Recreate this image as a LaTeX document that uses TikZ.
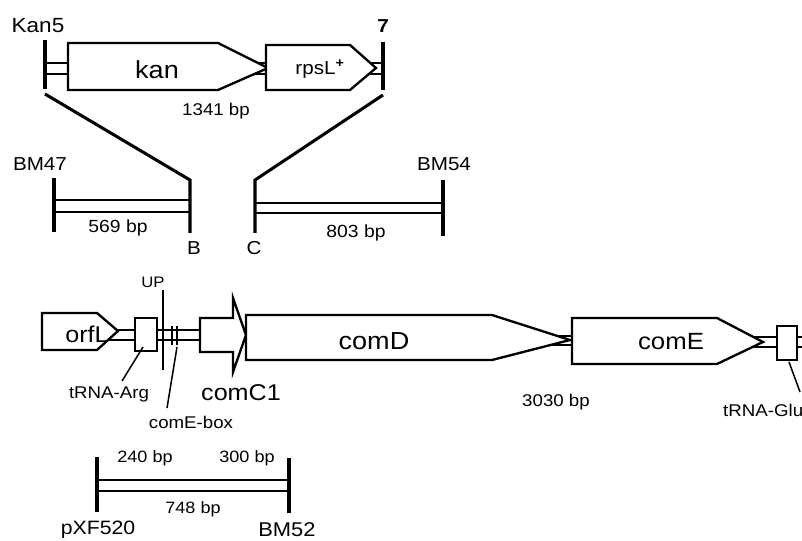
\documentclass[tikz,border=0pt]{standalone}
\usepackage{fontspec}
\setmainfont{Liberation Sans}[FakeStretch=1.1]
\usetikzlibrary{positioning}

\begin{document}
\begin{tikzpicture}[x=0.03cm,y=-0.03cm,
    bar/.style={line width=2.6pt},
    dna/.style={line width=2.4pt},
    gene/.style={draw,line width=2pt,fill=white},
    ptr/.style={line width=1.3pt},
    lbl/.style={inner sep=0pt,font=\fontsize{#1}{#1}\selectfont}]
  \useasboundingbox (0,0) rectangle (802,541);

  % Kan5 / 7 cassette
  \draw[dna] (45,63) -- (383,63);
  \draw[dna] (45,74) -- (383,74);
  \draw[gene] (68,43) -- (218,43) -- (268,68) -- (218,90) -- (68,90) -- cycle;  % kan
  \draw[gene] (266,45) -- (350,45) -- (376,68) -- (350,90) -- (266,90) -- cycle; % rpsL
  \draw[bar] (45,40) -- (45,89);
  \draw[bar] (383,42) -- (383,90);
  \node[lbl=17.5] (kanfive) at (38,26) {Kan5};
  \node[lbl=16,font=\fontsize{16}{16}\selectfont\bfseries] (seven) at (383,26) {7};
  \node[lbl=21] (kan) at (157,70) {kan};
  \node[lbl=16] (rpsl) at (320,69) {rpsL\textsuperscript{\bfseries +}};
  \node[lbl=14.5] (len1341) at (216,111) {1341 bp};

  % crossover into flanks
  \draw[bar] (45,94) -- (190,180) -- (190,233);   % B
  \draw[bar] (383,95) -- (255,180) -- (255,233);  % C

  % left flank
  \draw[bar] (54,178) -- (54,232);
  \draw[dna] (54,200) -- (190,200);
  \draw[dna] (54,212) -- (190,212);
  \node[lbl=16] (bmfortyseven) at (40,164) {BM47};
  \node[lbl=15] (len569) at (118,228) {569 bp};
  \node[lbl=16] (bflank) at (194,248) {B};

  % right flank
  \draw[bar] (443,180) -- (443,236);
  \draw[dna] (255,203) -- (443,203);
  \draw[dna] (255,213) -- (443,213);
  \node[lbl=16] (bmfiftyfour) at (444,164) {BM54};
  \node[lbl=15] (len803) at (356,233) {803 bp};
  \node[lbl=16] (cflank) at (254,248) {C};

  % com locus
  \draw[dna] (100,330) -- (200,330);
  \draw[dna] (100,340) -- (200,340);
  \draw[dna] (540,336) -- (573,336);
  \draw[dna] (540,345) -- (573,345);
  \draw[dna] (740,337) -- (802,337);
  \draw[dna] (740,347) -- (802,347);
  \draw[gene] (42,313) -- (97,313) -- (118,331) -- (97,350) -- (42,350) -- cycle;   % orfL
  \draw[gene] (135,318) rectangle (157,351);                                       % tRNA-Arg
  \draw[gene] (200,318) -- (233,318) -- (233,298) -- (246,335) -- (233,372)
    -- (233,352) -- (200,352) -- cycle;                                            % comC1
  \draw[gene] (246,315) -- (492,315) -- (570,340) -- (492,360) -- (246,360) -- cycle; % comD
  \draw[gene] (572,318) -- (717,318) -- (763,342) -- (717,364) -- (572,364) -- cycle; % comE
  \draw[gene] (777,326) rectangle (797,360);                                       % tRNA-Glu
  \draw[ptr] (172,326) -- (172,345);
  \draw[ptr] (177,326) -- (177,345);

  \coordinate (uptop) at (163,290);
  \coordinate (upfoot) at (163,370);
  \coordinate (argtip) at (143,347);
  \coordinate (argfoot) at (122,381);
  \coordinate (boxtip) at (177,347);
  \coordinate (boxfoot) at (167,408);
  \coordinate (glutip) at (789,362);
  \coordinate (glufoot) at (800,392);
  \draw[ptr] (uptop) -- (upfoot);
  \draw[ptr] (argtip) -- (argfoot);
  \draw[ptr] (boxtip) -- (boxfoot);
  \draw[ptr] (glutip) -- (glufoot);

  \node[lbl=19.5] (orfl) at (87,334) {orfL};
  \node[lbl=13] (up) at (153,282) {UP};
  \node[lbl=14.5] (trnaarg) at (109,394) {tRNA-Arg};
  \node[lbl=14.5] (comebox) at (191,422) {comE-box};
  \node[lbl=19.5] (comcone) at (241,393) {comC1};
  \node[lbl=21] (comd) at (374,341) {comD};
  \node[lbl=20] (come) at (671,342) {comE};
  \node[lbl=14.5] (len3030) at (556,402) {3030 bp};
  \node[lbl=14.5,anchor=west] (trnaglu) at (723,410) {tRNA-Glu};

  % pXF520 / BM52 fragment
  \draw[bar] (97,457) -- (97,512);
  \draw[bar] (289,458) -- (289,513);
  \draw[dna] (97,480) -- (289,480);
  \draw[dna] (97,491) -- (289,491);
  \node[lbl=14] (len240) at (145,458) {240 bp};
  \node[lbl=14] (len300) at (247,458) {300 bp};
  \node[lbl=14] (len748) at (193,509) {748 bp};
  \node[lbl=16.5] (pxf) at (98,530) {pXF520};
  \node[lbl=17] (bmfiftytwo) at (287,530) {BM52};
\end{tikzpicture}
\end{document}
